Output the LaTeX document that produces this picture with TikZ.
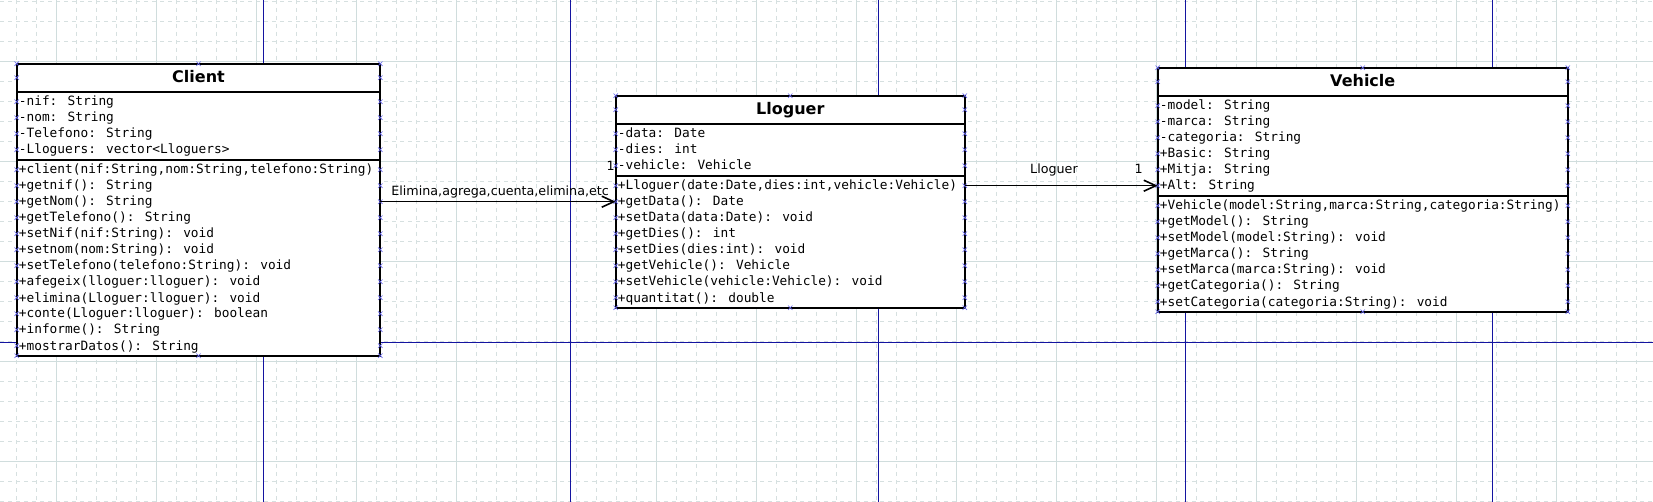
\documentclass[tikz,border=0pt]{standalone}
\usepackage{fontspec}
\setmainfont{DejaVu Sans}
\newfontfamily\monof{DejaVu Sans Mono}
\usetikzlibrary{arrows.meta}
\definecolor{gridminor}{RGB}{214,224,224}
\definecolor{gridmajor}{RGB}{208,221,221}
\definecolor{pageblue}{RGB}{20,20,160}
\definecolor{markblue}{RGB}{100,100,235}
\tikzset{
  classbox/.style={draw=black, line width=1.8pt, inner sep=0pt, outer sep=0pt},
  sepline/.style={draw=black, line width=1.8pt},
  titletext/.style={font=\bfseries\fontsize{16}{19}\selectfont, inner sep=0pt},
  rowtext/.style={font=\monof\fontsize{12.8}{16}\selectfont, inner sep=0pt, text height=12.3pt, text depth=3.7pt, anchor=west},
  lbl/.style={font=\fontsize{12.7}{15}\selectfont, inner sep=0pt},
  assoc/.style={draw=black, line width=1.6pt, -{Straight Barb[length=12pt,width=11pt]}},
  gminor/.style={draw=gridminor, line width=0.9pt, dash pattern=on 4pt off 4pt},
  gmajor/.style={draw=gridmajor, line width=1pt},
  pageline/.style={draw=pageblue, line width=1pt},
  mk/.style={draw=markblue, line width=0.6pt}
}
\newcommand\xmk[2]{\draw[mk] (#1-2.2,#2-2.2) -- (#1+2.2,#2+2.2) (#1-2.2,#2+2.2) -- (#1+2.2,#2-2.2);}
% name, x0, y0, width, title, nA, attrs, nM, methods
\newcommand\umlclass[9]{%
  \pgfmathsetmacro\ya{#3+28}%
  \pgfmathsetmacro\ym{#3+28+4+16*#6}%
  \pgfmathsetmacro\yb{\ym+4+16*#8}%
  \pgfmathsetmacro\xb{#2+#4}%
  \pgfmathsetmacro\xc{#2+#4/2}%
  \pgfmathsetmacro\hh{\yb-#3}%
  \fill[white] (#2,#3) rectangle (\xb,\yb);
  \node[classbox, minimum width=#4pt, minimum height=\hh pt, anchor=north west] (#1) at (#2,#3) {};
  \draw[sepline] (#2,\ya) -- (\xb,\ya);
  \draw[sepline] (#2,\ym) -- (\xb,\ym);
  \node[titletext, anchor=base] (#1-title) at (\xc,#3+19.3) {#5};
  \foreach \t [count=\i from 0] in {#7} {\node[rowtext] (#1-a\i) at (#2+2,\ya+10+16*\i) {\t};}
  \foreach \t [count=\i from 0] in {#9} {\node[rowtext] (#1-m\i) at (#2+2,\ym+10+16*\i) {\t};}
  % connection point marks
  \xmk{#2}{#3}\xmk{\xc}{#3}\xmk{\xb}{#3}
  \xmk{#2}{\yb}\xmk{\xc}{\yb}\xmk{\xb}{\yb}
  \xmk{#2}{#3+14}\xmk{\xb}{#3+14}
  \foreach \i in {1,...,#6} {\xmk{#2}{\ya+16*\i-6}\xmk{\xb}{\ya+16*\i-6}}
  \foreach \i in {1,...,#8} {\xmk{#2}{\ym+16*\i-6}\xmk{\xb}{\ym+16*\i-6}}
}
\begin{document}
\begin{tikzpicture}[x=1pt,y=-1pt]
\useasboundingbox (0,0) rectangle (1653,502);
\fill[white] (0,0) rectangle (1653,502);
% grid
\foreach \x in {16.7,36.7,...,1653} {\draw[gminor] (\x,0) -- (\x,502);}
\foreach \y in {1.7,21.7,...,502} {\draw[gminor] (0,\y) -- (1653,\y);}
\foreach \x in {56.7,156.7,...,1653} {\draw[gmajor] (\x,0) -- (\x,502);}
\foreach \y in {61.7,161.7,...,502} {\draw[gmajor] (0,\y) -- (1653,\y);}
% page boundaries
\foreach \x in {263.3,570.7,878,1185.4,1492.7} {\draw[pageline] (\x,0) -- (\x,502);}
\draw[pageline] (0,342.3) -- (1653,342.3);
% classes
\umlclass{client}{16.7}{63.7}{363.6}{Client}{4}{-nif: String,-nom: String,-Telefono: String,-Lloguers: vector<Lloguers>}{12}{{+client(nif:String,nom:String,telefono:String)},+getnif(): String,+getNom(): String,+getTelefono(): String,+setNif(nif:String): void,+setnom(nom:String): void,+setTelefono(telefono:String): void,+afegeix(lloguer:lloguer): void,+elimina(Lloguer:lloguer): void,+conte(Lloguer:lloguer): boolean,+informe(): String,+mostrarDatos(): String}
\umlclass{lloguer}{615.7}{95.7}{349.1}{Lloguer}{3}{-data: Date,-dies: int,-vehicle: Vehicle}{8}{{+Lloguer(date:Date,dies:int,vehicle:Vehicle)},+getData(): Date,+setData(data:Date): void,+getDies(): int,+setDies(dies:int): void,+getVehicle(): Vehicle,+setVehicle(vehicle:Vehicle): void,+quantitat(): double}
\umlclass{vehicle}{1157.7}{67.7}{410.1}{Vehicle}{6}{-model: String,-marca: String,-categoria: String,+Basic: String,+Mitja: String,+Alt: String}{7}{{+Vehicle(model:String,marca:String,categoria:String)},+getModel(): String,+setModel(model:String): void,+getMarca(): String,+setMarca(marca:String): void,+getCategoria(): String,+setCategoria(categoria:String): void}
% associations
\draw[assoc] (client-m2.west -| client.east) -- (lloguer-m1.west -| lloguer.west);
\draw[assoc] (lloguer-m0.west -| lloguer.east) -- (vehicle-a5.west -| vehicle.west);
\node[lbl, anchor=base west] (lbl1) at (391.2,195.5) {Elimina,agrega,cuenta,elimina,etc};
\node[lbl, anchor=base west] (mult1) at (606.5,170.7) {1};
\node[lbl, anchor=base west] (lbl2) at (1030,174) {Lloguer};
\node[lbl, anchor=base west] (mult2) at (1134.3,174) {1};
\end{tikzpicture}
\end{document}
